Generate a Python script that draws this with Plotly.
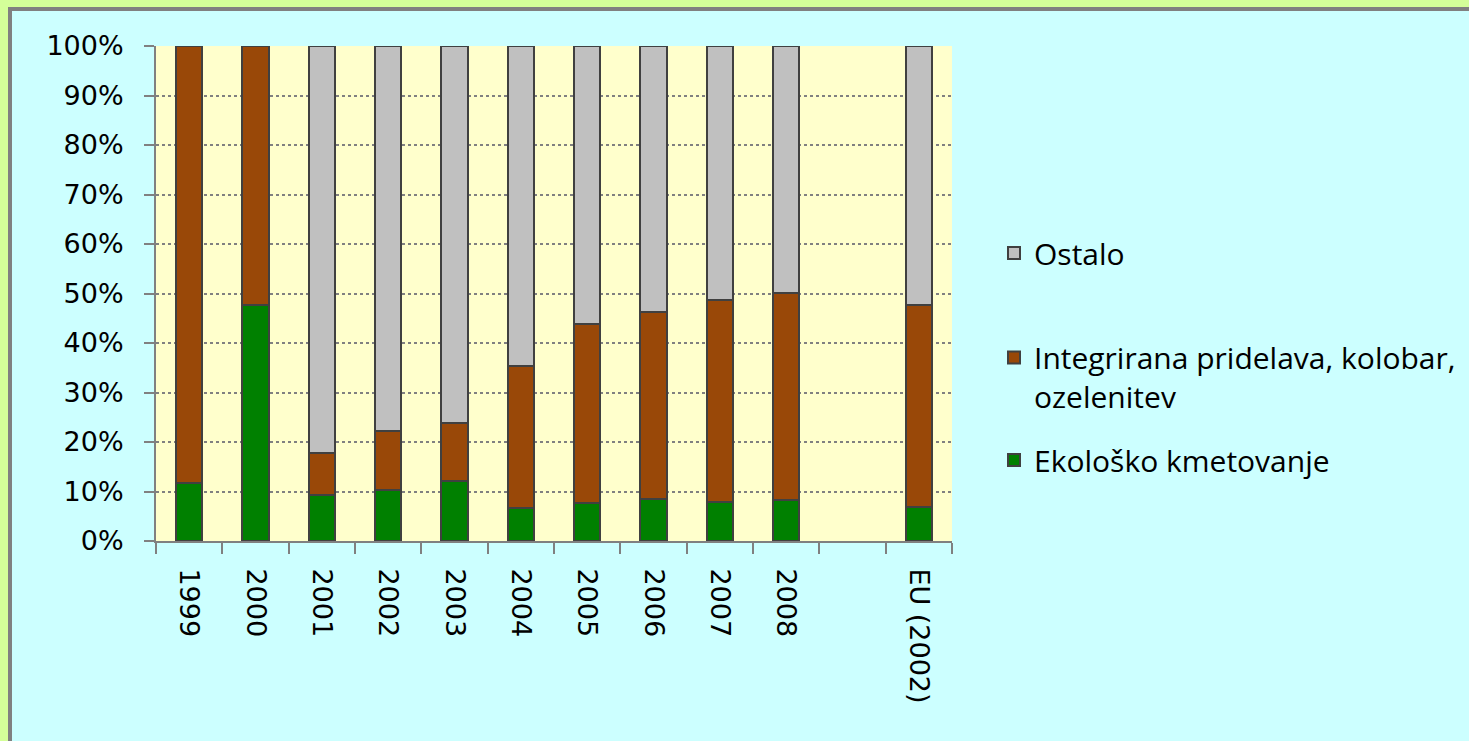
import plotly.graph_objects as go

categories = ["1999", "2000", "2001", "2002", "2003", "2004", "2005", "2006", "2007", "2008", " ", "EU (2002)"]
ekolosko = [11.8, 47.7, 9.2, 10.4, 12.1, 6.6, 7.6, 8.4, 7.9, 8.2, None, 6.9]
integrirana = [88.2, 52.3, 8.6, 11.8, 11.7, 28.8, 36.2, 37.9, 40.7, 42.0, None, 40.8]
ostalo = [0.0, 0.0, 82.2, 77.8, 76.2, 64.6, 56.2, 53.7, 51.4, 49.8, None, 52.3]
y_ticks = [0, 10, 20, 30, 40, 50, 60, 70, 80, 90, 100]
y_labels = [f"{v}%" for v in y_ticks]

W, H = 1469, 741
L, R, T, B = 156, 952, 46, 541  # plot area pixel box


def px(x):
    return (x - L) / (R - L)


def py(y):
    return (B - y) / (B - T)


outline = dict(color="#404040", width=2)
fig = go.Figure()
fig.add_trace(go.Bar(x=categories, y=ekolosko, name="Ekološko kmetovanje",
                     marker=dict(color="#008000", line=outline), legend="legend3"))
fig.add_trace(go.Bar(x=categories, y=integrirana, name="Integrirana pridelava, kolobar,<br>ozelenitev",
                     marker=dict(color="#994808", line=outline), legend="legend2"))
fig.add_trace(go.Bar(x=categories, y=ostalo, name="Ostalo",
                     marker=dict(color="#C0C0C0", line=outline), legend="legend"))

legfont = dict(family="Open Sans, Lato, sans-serif", size=30, color="#000000")
legcommon = dict(xanchor="left", yanchor="middle", bgcolor="rgba(0,0,0,0)",
                 font=legfont, valign="top", borderwidth=0)

shapes = [
    dict(type="rect", xref="paper", yref="paper", x0=px(0), x1=px(W), y0=py(7), y1=py(-2),
         fillcolor="#D4FF99", line=dict(width=0)),
    dict(type="rect", xref="paper", yref="paper", x0=px(-2), x1=px(8), y0=py(W), y1=py(0),
         fillcolor="#D4FF99", line=dict(width=0)),
    dict(type="rect", xref="paper", yref="paper", x0=px(8), x1=px(W + 2), y0=py(11), y1=py(7),
         fillcolor="#808080", line=dict(width=0)),
    dict(type="rect", xref="paper", yref="paper", x0=px(8), x1=px(12), y0=py(W), y1=py(7),
         fillcolor="#808080", line=dict(width=0)),
]

fig.update_layout(
    width=W, height=H,
    margin=dict(l=L, r=W - R, t=T, b=H - B, pad=0, autoexpand=False),
    paper_bgcolor="#CCFFFF",
    plot_bgcolor="#FFFFCC",
    barmode="stack",
    bargap=0.6,
    showlegend=True,
    legend=dict(x=px(994), y=py(253), **legcommon),
    legend2=dict(x=px(994), y=py(377), **legcommon),
    legend3=dict(x=px(994), y=py(460), **legcommon),
    shapes=shapes,
    font=dict(family="DejaVu Sans", color="#000000"),
)

fig.update_yaxes(
    range=[0, 100], tickmode="array", tickvals=y_ticks, ticktext=y_labels,
    tickfont=dict(family="DejaVu Sans", size=27, color="#000000"),
    showline=True, linecolor="#808080", linewidth=2,
    ticks="outside", ticklen=10, tickcolor="#808080", tickwidth=2,
    showgrid=True, gridcolor="#808080", gridwidth=2, griddash="dot",
    zeroline=False, ticklabelstandoff=15, fixedrange=True,
)
fig.update_xaxes(
    type="category", tickangle=90,
    tickfont=dict(family="DejaVu Sans", size=27, color="#000000"),
    showline=True, linecolor="#808080", linewidth=2,
    ticks="outside", ticklen=11, tickcolor="#808080", tickwidth=2,
    tickson="boundaries", showgrid=False, ticklabelstandoff=20, fixedrange=True,
)

fig.write_html("out.html", config={"displayModeBar": False},
               post_script="document.body.style.margin='0';document.body.style.overflow='hidden';")
